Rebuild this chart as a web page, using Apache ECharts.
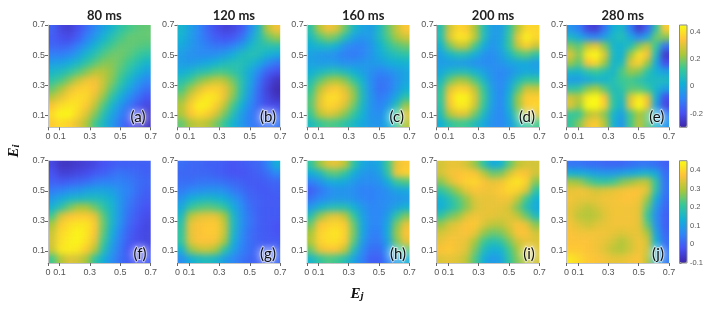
<!DOCTYPE html>
<html><head><meta charset="utf-8">
<style>html,body{margin:0;padding:0;background:#fff}#heat,#top{position:absolute;left:0;top:0;width:714px;height:311px}</style>
<script src="https://cdn.jsdelivr.net/npm/echarts@6/dist/echarts.min.js"></script>
</head><body><div id="heat"></div><div id="top"></div>
<script>
// rows run from Ei = 0.7 (top) down to Ei = 0.02, columns from Ej = 0 to 0.7
const panelA=[[-.16,-.22,-.24,-.2,-.14,-.08,-.02,.04,.1,.14,.16,.17],[-.17,-.2,-.21,-.17,-.1,-.04,.03,.09,.14,.17,.17,.17],[-.15,-.16,-.15,-.1,-.04,.03,.09,.14,.17,.17,.16,.15],[-.1,-.1,-.08,-.03,.04,.09,.15,.18,.18,.16,.13,.1],[-.03,-.02,.01,.05,.11,.16,.2,.2,.17,.13,.08,.04],[.04,.06,.1,.15,.2,.25,.25,.21,.15,.09,.03,-.02],[.1,.14,.2,.27,.32,.33,.27,.2,.12,.04,-.03,-.08],[.17,.23,.31,.36,.37,.34,.26,.16,.07,-.01,-.08,-.13],[.25,.31,.37,.39,.38,.31,.21,.1,.01,-.07,-.13,-.18],[.34,.39,.41,.4,.35,.26,.15,.04,-.05,-.12,-.18,-.22],[.39,.44,.44,.38,.3,.2,.09,-.01,-.09,-.16,-.21,-.25],[.36,.39,.37,.31,.24,.14,.05,-.04,-.12,-.19,-.24,-.26]];
const panelB=[[.04,-.02,-.08,-.15,-.2,-.23,-.22,-.18,-.08,.05,.25,.33],[.03,-.03,-.08,-.13,-.17,-.19,-.18,-.13,-.03,.07,.17,.22],[0,-.04,-.07,-.1,-.12,-.12,-.09,-.04,.04,.08,.09,.09],[-.03,-.06,-.07,-.07,-.06,-.03,.01,.06,.08,.07,.03,0],[-.03,-.04,-.02,0,.03,.06,.08,.08,.05,0,-.07,-.12],[.01,.04,.08,.1,.14,.14,.11,.07,0,-.08,-.16,-.2],[.08,.13,.19,.23,.27,.25,.18,.09,-.01,-.12,-.21,-.26],[.14,.22,.3,.36,.37,.32,.22,.09,-.03,-.14,-.23,-.28],[.2,.3,.38,.42,.4,.32,.2,.07,-.05,-.15,-.22,-.26],[.25,.36,.43,.42,.36,.26,.14,.02,-.08,-.15,-.2,-.21],[.24,.34,.39,.36,.29,.19,.08,-.03,-.1,-.15,-.17,-.16],[.17,.24,.27,.25,.19,.12,.03,-.04,-.1,-.13,-.13,-.12]];
const panelC=[[.1,.25,.33,.3,.18,.05,-.01,-.03,.05,.17,.27,.35],[.06,.15,.2,.17,.07,-.02,-.05,-.03,.06,.15,.23,.28],[.02,.04,.05,.02,-.06,-.09,-.09,-.05,.02,.1,.15,.18],[-.02,-.04,-.05,-.07,-.1,-.11,-.09,-.05,0,.05,.08,.1],[-.02,-.03,-.03,-.04,-.06,-.06,-.05,-.04,-.03,0,.02,.03],[.02,.05,.08,.09,.06,.02,-.02,-.06,-.09,-.07,-.04,-.01],[.07,.16,.22,.24,.2,.12,.03,-.07,-.12,-.11,-.06,-.01],[.12,.25,.33,.36,.3,.2,.06,-.06,-.13,-.11,-.05,.02],[.15,.3,.39,.39,.33,.22,.07,-.05,-.11,-.08,0,.1],[.16,.31,.38,.36,.29,.18,.05,-.05,-.09,-.04,.08,.22],[.13,.25,.3,.27,.2,.12,.03,-.05,-.07,0,.13,.3],[.06,.12,.15,.14,.1,.05,0,-.04,-.05,0,.12,.25]];
const panelD=[[.08,.28,.38,.36,.24,.08,-.03,-.03,.1,.25,.38,.38],[.08,.3,.41,.4,.26,.08,-.04,-.02,.12,.32,.43,.38],[.03,.18,.27,.26,.14,.01,-.05,-.01,.12,.27,.36,.28],[-.02,.04,.08,.07,.01,-.05,-.07,-.03,.05,.14,.16,.1],[-.03,-.03,-.03,-.04,-.06,-.07,-.07,-.05,-.02,0,0,-.03],[0,.05,.07,.07,.03,-.02,-.06,-.08,-.06,-.02,0,-.01],[.05,.17,.23,.22,.15,.05,-.05,-.08,-.03,.06,.12,.12],[.1,.3,.37,.36,.26,.12,-.03,-.08,0,.15,.28,.27],[.12,.35,.44,.43,.3,.14,-.02,-.08,.03,.22,.36,.36],[.1,.33,.42,.41,.28,.12,-.03,-.08,.03,.22,.36,.38],[.07,.24,.31,.3,.18,.06,-.05,-.08,0,.15,.27,.3],[.02,.1,.14,.13,.07,0,-.06,-.08,-.03,.07,.12,.14]];
const panelE=[[-.05,-.1,-.22,-.24,-.12,.02,.05,-.1,-.25,-.15,.1,.36],[.05,0,-.06,-.08,-.02,.05,.08,0,-.08,0,.18,.2],[.2,.16,.27,.32,.2,.04,.03,.08,.2,.27,.12,-.12],[.3,.2,.42,.48,.3,.06,.02,.22,.4,.34,.06,-.25],[.22,.16,.34,.38,.22,.04,.06,.3,.37,.22,0,-.2],[.05,.04,.1,.13,.08,.04,.15,.22,.2,.1,.02,-.02],[-.03,-.03,0,.03,.03,.08,.13,.14,.1,.06,.06,.06],[.1,.12,.2,.24,.16,.07,.1,.16,.16,.12,.04,-.02],[.28,.25,.42,.48,.34,.1,.06,.3,.42,.32,.02,-.2],[.3,.22,.44,.5,.36,.11,.03,.32,.46,.33,-.02,-.22],[.12,.12,.24,.28,.2,.04,-.02,.14,.24,.18,0,-.1],[.12,.2,.32,.36,.25,.03,-.05,.14,.26,.17,.03,-.05]];
const panelF=[[-.04,-.07,-.07,-.06,-.05,-.04,-.02,-.01,0,0,0,0],[-.02,-.05,-.05,-.04,-.03,-.01,0,.02,.03,.02,.01,0],[0,-.01,0,.01,.02,.04,.05,.05,.05,.04,.02,.01],[.04,.05,.07,.08,.1,.11,.11,.1,.07,.05,.02,0],[.09,.12,.15,.16,.17,.17,.16,.13,.08,.04,.01,-.01],[.14,.19,.25,.29,.29,.25,.2,.15,.08,.03,0,-.02],[.22,.33,.37,.38,.38,.35,.24,.15,.08,.02,-.01,-.03],[.29,.38,.41,.42,.42,.38,.25,.15,.07,.01,-.02,-.04],[.32,.4,.42,.44,.42,.37,.24,.13,.05,0,-.03,-.04],[.33,.41,.43,.44,.41,.35,.22,.11,.04,-.01,-.03,-.04],[.32,.42,.43,.42,.38,.3,.18,.09,.03,-.02,-.03,-.03],[.22,.3,.34,.33,.29,.2,.13,.07,.02,-.01,-.02,-.01]];
const panelG=[[.02,.01,.01,0,0,-.01,-.02,-.01,0,.01,.05,.13],[.01,.01,.01,.01,0,-.01,-.02,-.02,-.01,0,.02,.06],[.02,.02,.03,.03,.03,.02,.01,0,-.01,-.01,0,.01],[.04,.06,.07,.08,.08,.07,.04,.02,0,-.01,-.01,0],[.08,.13,.15,.16,.15,.13,.09,.05,.01,0,-.01,-.01],[.12,.2,.23,.24,.23,.2,.13,.07,.02,0,-.01,-.01],[.16,.3,.34,.35,.35,.29,.16,.08,.03,0,-.01,-.01],[.19,.35,.37,.38,.38,.32,.17,.08,.03,0,-.01,-.02],[.2,.35,.37,.38,.38,.32,.16,.07,.02,0,-.01,-.02],[.2,.34,.37,.37,.36,.29,.14,.06,.02,0,-.01,-.01],[.14,.27,.31,.32,.29,.2,.11,.05,.02,0,0,0],[.07,.13,.16,.17,.15,.1,.06,.03,.01,0,0,.01]];
const panelH=[[.2,.28,.34,.35,.31,.2,.12,.1,.12,.22,.35,.38],[.13,.16,.23,.24,.2,.13,.09,.08,.1,.2,.36,.39],[.05,.08,.12,.13,.12,.09,.07,.07,.08,.13,.21,.23],[0,.03,.06,.08,.08,.07,.05,.05,.06,.08,.11,.12],[.03,.06,.08,.09,.09,.08,.06,.05,.06,.07,.08,.09],[.09,.14,.17,.18,.18,.14,.09,.06,.06,.08,.11,.14],[.18,.27,.33,.35,.31,.21,.11,.06,.06,.1,.2,.26],[.25,.37,.39,.4,.38,.25,.12,.06,.06,.12,.26,.35],[.29,.39,.41,.42,.39,.26,.12,.05,.05,.13,.28,.37],[.3,.39,.41,.41,.38,.24,.1,.04,.04,.11,.26,.35],[.25,.35,.37,.37,.31,.18,.07,.02,.02,.08,.18,.24],[.15,.2,.23,.22,.18,.11,.05,0,0,.05,.1,.13]];
const panelI=[[.33,.35,.35,.33,.28,.2,.12,.14,.24,.31,.33,.33],[.33,.36,.37,.38,.37,.31,.25,.26,.33,.38,.37,.33],[.27,.33,.37,.39,.4,.37,.35,.36,.4,.42,.39,.27],[.2,.24,.29,.35,.37,.36,.36,.38,.4,.39,.34,.2],[.14,.18,.23,.28,.34,.35,.35,.36,.36,.31,.22,.14],[.13,.17,.22,.27,.33,.35,.35,.35,.33,.26,.18,.12],[.2,.25,.28,.34,.36,.35,.35,.34,.34,.31,.25,.17],[.28,.33,.35,.37,.38,.34,.31,.31,.34,.37,.35,.27],[.33,.35,.36,.37,.35,.28,.25,.26,.31,.37,.37,.33],[.35,.37,.36,.35,.29,.22,.18,.2,.26,.33,.35,.34],[.37,.38,.36,.34,.26,.17,.13,.14,.22,.29,.34,.34],[.34,.35,.34,.31,.23,.13,.09,.11,.2,.27,.31,.33]];
const panelJ=[[.03,.03,.02,.02,.01,.01,.01,.02,.03,.03,.02,0],[.14,.13,.12,.1,.09,.09,.11,.12,.14,.15,.12,.02],[.29,.28,.24,.21,.2,.22,.26,.28,.31,.31,.2,.03],[.35,.36,.35,.33,.34,.35,.36,.37,.37,.34,.19,.03],[.36,.35,.35,.35,.36,.36,.37,.37,.36,.28,.13,.02],[.35,.33,.31,.33,.35,.36,.36,.36,.35,.24,.09,.01],[.35,.31,.3,.31,.34,.36,.36,.36,.35,.21,.07,0],[.36,.34,.32,.34,.35,.36,.36,.36,.35,.24,.08,0],[.37,.36,.36,.36,.36,.35,.34,.35,.35,.29,.11,.01],[.37,.37,.37,.36,.35,.33,.3,.33,.36,.33,.14,.02],[.38,.38,.37,.36,.34,.31,.3,.33,.36,.33,.15,.03],[.42,.4,.38,.37,.36,.35,.35,.36,.37,.31,.14,.04]];
const panels=[panelA,panelB,panelC,panelD,panelE,panelF,panelG,panelH,panelI,panelJ];
const titles=['80 ms','120 ms','160 ms','200 ms','280 ms'];
const panelTags=['(a)','(b)','(c)','(d)','(e)','(f)','(g)','(h)','(i)','(j)'];
const xTicks=[0.025,0.1,0.3,0.5,0.7];
const yTicks=[0.1,0.3,0.5,0.7];
const barTicksTop=[-0.2,0,0.2,0.4];
const barTicksBottom=[-0.1,0,0.1,0.2,0.3,0.4];
const rangeTop=[-0.3,0.45];
const rangeBottom=[-0.1,0.45];
const parula=['#3e26a8','#4752f4','#2d87f7','#12b1d6','#37c897','#abc739','#fec338','#f9fb15'];

// layout
const lefts=[48,177.5,306.8,436.7,566.4], tops=[25,160.7], W=102.7, H=102.3, N=12;
const tagX=[138,268,396.7,527,656.7,140,268,398,529,658];
const boxes=panels.map((_,i)=>({x:lefts[i%5],y:tops[i<5?0:1],tag:tagX[i]}));

function padded(rows){ // repeat the outer cells so that the soft edge stays outside the frame
  const r=rows.map(c=>[c[0],...c,c[c.length-1]]);
  return [r[0],...r,r[r.length-1]];
}
const idx=Array.from({length:N+2},(_,i)=>i);
const heat=echarts.init(document.getElementById('heat'),null,{renderer:'canvas'});
const cw=W/N,ch=H/N;
heat.setOption({
  animation:false,
  grid:boxes.map(b=>({left:b.x-cw,top:b.y-ch,width:W+2*cw,height:H+2*ch})),
  xAxis:boxes.map((b,i)=>({type:'category',gridIndex:i,data:idx,show:false})),
  yAxis:boxes.map((b,i)=>({type:'category',gridIndex:i,data:idx,show:false})),
  visualMap:[
    {show:false,min:rangeTop[0],max:rangeTop[1],seriesIndex:[0,1,2,3,4],inRange:{color:parula}},
    {show:false,min:rangeBottom[0],max:rangeBottom[1],seriesIndex:[5,6,7,8,9],inRange:{color:parula}}
  ],
  series:panels.map((p,i)=>{
    const rows=padded(p),data=[];
    rows.forEach((c,r)=>c.forEach((v,k)=>data.push([k,N+1-r,v])));
    return {type:'heatmap',xAxisIndex:i,yAxisIndex:i,data,progressive:0,animation:false,emphasis:{disabled:true}};
  })
});
const heatEl=document.getElementById('heat');
heatEl.style.filter='blur(3.2px)';
const clip=boxes.map(b=>`M${b.x} ${b.y}h${W}v${H}h${-W}z`).join(' ');
heatEl.style.clipPath=`path('${clip}')`;

const gray='#555';
const fnt='"Liberation Sans",Arial,sans-serif';
const bars=[{top:tops[0],range:rangeTop,ticks:barTicksTop},{top:tops[1],range:rangeBottom,ticks:barTicksBottom}];
const grids=boxes.map(b=>({left:b.x,top:b.y,width:W,height:H}));
bars.forEach(b=>grids.push({left:679.5,top:b.top,width:7.5,height:H}));
const xAxes=boxes.map((b,i)=>({type:'value',gridIndex:i,min:xTicks[0],max:0.7,splitLine:{show:false},
  axisLine:{lineStyle:{color:'#c4c4c4',width:1}},
  axisTick:{length:3,customValues:xTicks,lineStyle:{color:'#666'}},
  axisLabel:{customValues:xTicks,color:gray,fontSize:9,fontFamily:fnt,margin:5,formatter:v=>v===xTicks[0]?'0':v.toFixed(1)}}));
const yAxes=boxes.map((b,i)=>({type:'value',gridIndex:i,min:0.02,max:0.7,splitLine:{show:false},
  axisLine:{lineStyle:{color:'#c4c4c4',width:1}},
  axisTick:{length:3,customValues:yTicks,lineStyle:{color:'#666'}},
  axisLabel:{customValues:yTicks,color:gray,fontSize:9,fontFamily:fnt,margin:3,formatter:v=>v.toFixed(1)}}));
bars.forEach((b,k)=>{
  xAxes.push({type:'value',gridIndex:10+k,show:false,min:0,max:1,splitLine:{show:false}});
  yAxes.push({type:'value',gridIndex:10+k,position:'right',min:b.range[0],max:b.range[1],splitLine:{show:false},
    axisLine:{show:false},axisTick:{length:2,inside:false,customValues:b.ticks,lineStyle:{color:'#777'}},
    axisLabel:{customValues:b.ticks,color:gray,fontSize:7.5,fontFamily:fnt,margin:3,formatter:v=>String(v)}});
});
const graphic=[];
boxes.forEach((b,i)=>graphic.push({type:'text',x:b.tag,y:b.y+(i<5?92.5:93),z:10,style:{text:panelTags[i],align:'center',verticalAlign:'middle',
  font:'15px Lato,sans-serif',fill:'#111',stroke:'rgba(255,255,255,.55)',lineWidth:2,textShadowColor:'#fff',textShadowBlur:8}}));
const sym=(t,s)=>({type:'text',z:10,style:{text:`{e|${t}}{s|${s}}`,align:'center',verticalAlign:'middle',rich:{e:{font:'italic bold 15px "Liberation Serif",serif',fill:'#111'},s:{font:'italic bold 11px "Liberation Serif",serif',fill:'#111',padding:[5,0,0,0]}}}});
graphic.push(Object.assign(sym('E','j'),{x:357,y:294}));
graphic.push(Object.assign(sym('E','i'),{x:14,y:151,rotation:Math.PI/2}));
bars.forEach(b=>graphic.push({type:'rect',z:10,shape:{x:679.5,y:b.top,width:7.5,height:H},style:{fill:'none',stroke:'#8a8a8a',lineWidth:1}}));
const over=echarts.init(document.getElementById('top'));
over.setOption({
  animation:false,
  title:titles.map((t,i)=>({text:t,left:lefts[i]+W/2,top:4,textAlign:'center',textStyle:{fontFamily:'Lato,sans-serif',fontWeight:'bold',fontSize:13,color:'#222'}})),
  grid:grids,xAxis:xAxes,yAxis:yAxes,
  visualMap:bars.map(b=>({type:'continuous',show:true,seriesIndex:[],min:b.range[0],max:b.range[1],left:679.5,top:b.top,itemWidth:7.5,itemHeight:H,padding:0,text:['',''],showLabel:false,calculable:false,inRange:{color:parula}})),
  graphic:{elements:graphic}
});
</script></body></html>
